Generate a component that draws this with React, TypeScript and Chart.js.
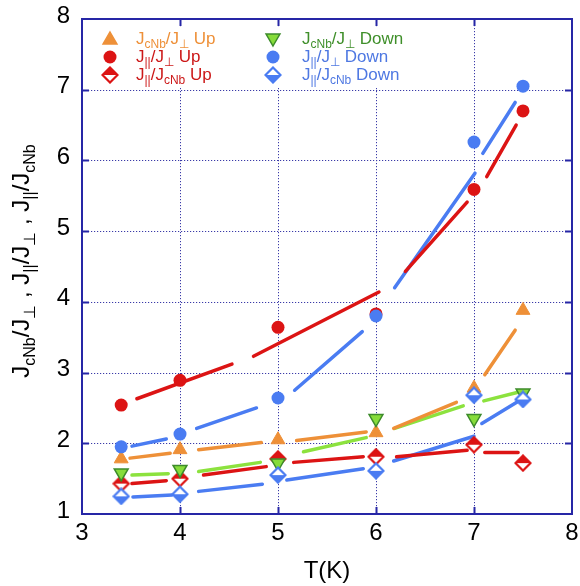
import React, { useEffect, useRef } from 'react';
import { Chart, registerables } from 'chart.js';

Chart.register(...registerables);

// ---------- data ----------
const temps = [3.4, 4, 5, 6, 7, 7.5];
const jcnbPerpUp = [1.78, 1.91, 2.05, 2.15, 2.78, 3.88];
const jparPerpUp = [2.54, 2.89, 3.64, 3.83, 5.59, 6.7];
const jparCnbUp = [1.43, 1.5, 1.78, 1.81, 1.98, 1.72];
const jcnbPerpDown = [1.58, 1.63, 1.72, 2.35, 2.35, 2.71];
const jparPerpDown = [1.95, 2.13, 2.64, 3.8, 6.26, 7.05];
const jparCnbDown = [1.25, 1.28, 1.55, 1.61, 2.68, 2.62];

// fitted guide-line segments [x1, y1, x2, y2]
const fitJcnbPerpUp = [[3.49, 1.79, 3.9, 1.86], [4.19, 1.91, 4.83, 2.01], [5.19, 2.04, 5.9, 2.16], [6.18, 2.21, 6.82, 2.58], [7.11, 2.97, 7.42, 3.6]];
const fitJparPerpUp = [[3.56, 2.63, 4.53, 3.12], [4.75, 3.23, 6.03, 4.14], [6.3, 4.43, 6.93, 5.41], [7.13, 5.77, 7.43, 6.5]];
const fitJparCnbUp = [[3.51, 1.43, 3.86, 1.47], [4.24, 1.55, 4.88, 1.67], [5.16, 1.73, 5.87, 1.81], [6.21, 1.81, 6.93, 1.9], [7.11, 1.87, 7.45, 1.87]];
const fitJcnbPerpDown = [[3.51, 1.55, 3.88, 1.57], [4.19, 1.6, 4.82, 1.73], [5.26, 1.88, 5.9, 2.08], [6.19, 2.21, 6.89, 2.53], [7.1, 2.6, 7.5, 2.74]];
const fitJparPerpDown = [[3.51, 1.96, 3.86, 2.06], [4.17, 2.21, 4.78, 2.5], [5.17, 2.75, 5.86, 3.58], [6.19, 4.2, 7.01, 5.82], [7.09, 6.1, 7.42, 6.82]];
const fitJparCnbDown = [[3.52, 1.24, 3.92, 1.27], [4.19, 1.32, 4.84, 1.42], [5.09, 1.48, 5.87, 1.64], [6.18, 1.75, 7.0, 2.1], [7.08, 2.28, 7.47, 2.61]];

const xTicks = [3, 4, 5, 6, 7, 8];
const yTicks = [1, 2, 3, 4, 5, 6, 7, 8];

// ---------- styles ----------
const FONT = '"Liberation Sans", Arial, Helvetica, sans-serif';
const ORANGE = '#EE9038';
const RED = '#DC1414';
const GREEN_FILL = '#86DC3A';
const GREEN_EDGE = '#3D8B2B';
const GREEN_LINE = '#8CE23E';
const BLUE = '#4A7CF2';
const AXIS = '#2626A6';
const GRID = '#3A3AA8';

type Part = { t: string; sub?: boolean };

function drawRich(ctx: CanvasRenderingContext2D, parts: Part[], x: number, y: number, size: number, subSize: number, color: string, align: 'left' | 'center') {
  let w = 0;
  for (const p of parts) {
    ctx.font = `${p.sub ? subSize : size}px ${FONT}`;
    w += ctx.measureText(p.t).width;
  }
  let cx = align === 'center' ? x - w / 2 : x;
  ctx.fillStyle = color;
  ctx.textAlign = 'left';
  ctx.textBaseline = 'alphabetic';
  for (const p of parts) {
    ctx.font = `${p.sub ? subSize : size}px ${FONT}`;
    ctx.fillText(p.t, cx, p.sub ? y + size * 0.24 : y);
    cx += ctx.measureText(p.t).width;
  }
}

function makeDiamond(color: string, topFilled: boolean): HTMLCanvasElement {
  const s = 18;
  const c = document.createElement('canvas');
  c.width = s;
  c.height = s;
  const g = c.getContext('2d')!;
  const m = s / 2;
  const h = 7.5;
  const path = () => {
    g.beginPath();
    g.moveTo(m, m - h);
    g.lineTo(m + h, m);
    g.lineTo(m, m + h);
    g.lineTo(m - h, m);
    g.closePath();
  };
  path();
  g.fillStyle = '#fff';
  g.fill();
  g.beginPath();
  if (topFilled) {
    g.moveTo(m, m - h);
    g.lineTo(m + h, m);
    g.lineTo(m - h, m);
  } else {
    g.moveTo(m, m + h);
    g.lineTo(m + h, m);
    g.lineTo(m - h, m);
  }
  g.closePath();
  g.fillStyle = color;
  g.fill();
  path();
  g.lineWidth = 2.2;
  g.strokeStyle = color;
  g.stroke();
  return c;
}

function segData(segs: number[][]) {
  const out: { x: number; y: number | null }[] = [];
  segs.forEach((s, i) => {
    if (i > 0) out.push({ x: (segs[i - 1][2] + s[0]) / 2, y: null });
    out.push({ x: s[0], y: s[1] }, { x: s[2], y: s[3] });
  });
  return out;
}

function pts(vals: number[]) {
  return temps.map((t, i) => ({ x: t, y: vals[i] }));
}

function drawTri(ctx: CanvasRenderingContext2D, x: number, y: number, r: number, down: boolean, fill: string, edge: string) {
  const s = down ? -1 : 1;
  ctx.beginPath();
  ctx.moveTo(x, y - s * r);
  ctx.lineTo(x + r * 0.866, y + s * r * 0.5);
  ctx.lineTo(x - r * 0.866, y + s * r * 0.5);
  ctx.closePath();
  ctx.fillStyle = fill;
  ctx.fill();
  ctx.lineWidth = 1.5;
  ctx.strokeStyle = edge;
  ctx.stroke();
}

export default function App() {
  const ref = useRef<HTMLCanvasElement>(null);

  useEffect(() => {
    if (!ref.current) return;
    const redDiamond = makeDiamond(RED, true);
    const blueDiamond = makeDiamond(BLUE, false);

    const J = (t: string): Part => ({ t });
    const S = (t: string): Part => ({ t, sub: true });
    const legendRows: { parts: Part[]; color: string; marker: (ctx: CanvasRenderingContext2D, x: number, y: number) => void }[][] = [
      [
        { parts: [J('J'), S('cNb'), J('/J'), S('⊥'), J(' Up')], color: ORANGE, marker: (c, x, y) => drawTri(c, x, y + 1, 8, false, ORANGE, ORANGE) },
        { parts: [J('J'), S('||'), J('/J'), S('⊥'), J(' Up')], color: '#CC1818', marker: (c, x, y) => { c.beginPath(); c.arc(x, y, 6.5, 0, Math.PI * 2); c.fillStyle = RED; c.fill(); } },
        { parts: [J('J'), S('||'), J('/J'), S('cNb'), J(' Up')], color: '#CC1818', marker: (c, x, y) => c.drawImage(redDiamond, x - 9, y - 9) },
      ],
      [
        { parts: [J('J'), S('cNb'), J('/J'), S('⊥'), J(' Down')], color: '#3F8F2A', marker: (c, x, y) => drawTri(c, x, y - 1, 8, true, GREEN_FILL, GREEN_EDGE) },
        { parts: [J('J'), S('||'), J('/J'), S('⊥'), J(' Down')], color: '#4E78E2', marker: (c, x, y) => { c.beginPath(); c.arc(x, y, 6.5, 0, Math.PI * 2); c.fillStyle = BLUE; c.fill(); } },
        { parts: [J('J'), S('||'), J('/J'), S('cNb'), J(' Down')], color: '#4E78E2', marker: (c, x, y) => c.drawImage(blueDiamond, x - 9, y - 9) },
      ],
    ];

    const decor = {
      id: 'decor',
      beforeDatasetsDraw(chart: any) {
        const { ctx, chartArea: a, scales } = chart;
        const xs = scales.x;
        const ys = scales.y;
        ctx.save();
        ctx.strokeStyle = GRID;
        ctx.lineWidth = 1;
        ctx.setLineDash([1.2, 1.8]);
        xTicks.slice(1, -1).forEach((v) => {
          const px = Math.round(xs.getPixelForValue(v)) + 0.5;
          ctx.beginPath();
          ctx.moveTo(px, a.top);
          ctx.lineTo(px, a.bottom);
          ctx.stroke();
        });
        yTicks.slice(1, -1).forEach((v) => {
          const py = Math.round(ys.getPixelForValue(v)) + 0.5;
          ctx.beginPath();
          ctx.moveTo(a.left, py);
          ctx.lineTo(a.right, py);
          ctx.stroke();
        });
        ctx.setLineDash([]);
        ctx.fillStyle = '#fff';
        ctx.fillRect(a.left + 2, a.top + 8, 372, 61);
        ctx.restore();
      },
      afterDatasetsDraw(chart: any) {
        const { ctx, chartArea: a, scales } = chart;
        const xs = scales.x;
        const ys = scales.y;
        ctx.save();
        ctx.strokeStyle = AXIS;
        ctx.lineWidth = 2;
        ctx.strokeRect(a.left, a.top, a.right - a.left, a.bottom - a.top);
        const tl = 7;
        xTicks.slice(1, -1).forEach((v) => {
          const px = Math.round(xs.getPixelForValue(v)) + 0.5;
          ctx.beginPath();
          ctx.moveTo(px, a.bottom);
          ctx.lineTo(px, a.bottom - tl);
          ctx.moveTo(px, a.top);
          ctx.lineTo(px, a.top + tl);
          ctx.stroke();
        });
        yTicks.slice(1, -1).forEach((v) => {
          const py = Math.round(ys.getPixelForValue(v)) + 0.5;
          ctx.beginPath();
          ctx.moveTo(a.left, py);
          ctx.lineTo(a.left + tl, py);
          ctx.moveTo(a.right, py);
          ctx.lineTo(a.right - tl, py);
          ctx.stroke();
        });

        // legend
        const colX = [[a.left + 28, a.left + 54], [a.left + 191, a.left + 220]];
        const rowY = [a.top + 25, a.top + 43, a.top + 61];
        legendRows.forEach((col, ci) => {
          col.forEach((row, ri) => {
            row.marker(ctx, colX[ci][0], rowY[ri] - 5);
            drawRich(ctx, row.parts, colX[ci][1], rowY[ri], 17, 12, row.color, 'left');
          });
        });

        // axis titles
        ctx.fillStyle = '#000';
        ctx.font = `24px ${FONT}`;
        ctx.textAlign = 'center';
        ctx.textBaseline = 'alphabetic';
        ctx.fillText('T(K)', (a.left + a.right) / 2, 578);

        ctx.translate(29, 261);
        ctx.rotate(-Math.PI / 2);
        drawRich(
          ctx,
          [J('J'), S('cNb'), J('/J'), S('⊥'), J(' , J'), S('||'), J('/J'), S('⊥'), J(' , J'), S('||'), J('/J'), S('cNb')],
          0, 0, 24, 16, '#000', 'center'
        );
        ctx.restore();
      },
    };

    const lineDs = (segs: number[][], color: string) => ({
      data: segData(segs),
      borderColor: color,
      backgroundColor: color,
      borderWidth: 3.5,
      borderCapStyle: 'round' as const,
      pointRadius: 0,
      showLine: true,
      spanGaps: false,
      order: 20,
    });

    const chart = new Chart(ref.current, {
      type: 'line',
      data: {
        datasets: [
          lineDs(fitJcnbPerpUp, ORANGE),
          lineDs(fitJparPerpUp, RED),
          lineDs(fitJparCnbUp, RED),
          lineDs(fitJcnbPerpDown, GREEN_LINE),
          lineDs(fitJparPerpDown, BLUE),
          lineDs(fitJparCnbDown, BLUE),
          { data: pts(jcnbPerpUp), showLine: false, pointStyle: 'triangle', pointRadius: 8, pointBackgroundColor: ORANGE, pointBorderColor: ORANGE, pointBorderWidth: 1, order: 6 },
          { data: pts(jparPerpUp), showLine: false, pointStyle: 'circle', pointRadius: 6.5, pointBackgroundColor: RED, pointBorderColor: RED, pointBorderWidth: 0, order: 5 },
          { data: pts(jparCnbUp), showLine: false, pointStyle: redDiamond, pointRadius: 9, order: 4 },
          { data: pts(jcnbPerpDown), showLine: false, pointStyle: 'triangle', pointRotation: 180, pointRadius: 8, pointBackgroundColor: GREEN_FILL, pointBorderColor: GREEN_EDGE, pointBorderWidth: 1.5, order: 3 },
          { data: pts(jparPerpDown), showLine: false, pointStyle: 'circle', pointRadius: 6.5, pointBackgroundColor: BLUE, pointBorderColor: BLUE, pointBorderWidth: 0, order: 2 },
          { data: pts(jparCnbDown), showLine: false, pointStyle: blueDiamond, pointRadius: 9, order: 1 },
        ] as any,
      },
      options: {
        animation: false,
        responsive: false,
        events: [],
        layout: { padding: { top: 19, right: 8, left: 0, bottom: 0 }, autoPadding: false } as any,
        plugins: { legend: { display: false }, tooltip: { enabled: false } },
        scales: {
          x: {
            type: 'linear',
            min: 3,
            max: 8,
            grid: { display: false, drawTicks: false },
            border: { display: false },
            afterBuildTicks: (s: any) => { s.ticks = xTicks.map((v) => ({ value: v })); },
            afterFit: (s: any) => { s.height = 72; s.paddingLeft = 0; s.paddingRight = 0; s.paddingTop = 0; s.paddingBottom = 0; },
            ticks: { color: '#000', padding: 5, font: { family: FONT, size: 24 }, maxRotation: 0 },
          },
          y: {
            type: 'linear',
            min: 1,
            max: 8,
            grid: { display: false, drawTicks: false },
            border: { display: false },
            afterBuildTicks: (s: any) => { s.ticks = yTicks.map((v) => ({ value: v })); },
            afterFit: (s: any) => { s.width = 82; s.paddingTop = 0; s.paddingBottom = 0; s.paddingLeft = 0; s.paddingRight = 0; },
            ticks: { color: '#000', padding: 12, labelOffset: -3, font: { family: FONT, size: 24 } },
          },
        },
      } as any,
      plugins: [decor],
    });
    return () => chart.destroy();
  }, []);

  return (
    <div style={{ position: 'fixed', left: 0, top: 0, width: 580, height: 586, background: '#fff' }}>
      <canvas ref={ref} width={580} height={586} style={{ display: 'block' }} />
    </div>
  );
}
